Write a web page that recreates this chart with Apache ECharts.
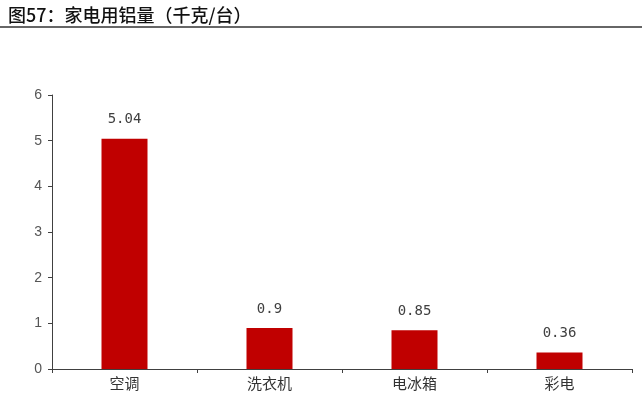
<!DOCTYPE html>
<html>
<head>
<meta charset="utf-8">
<script src="https://cdn.jsdelivr.net/npm/echarts@6/dist/echarts.min.js"></script>
<style>
html,body{margin:0;padding:0;background:#fff;}
#chart{width:642px;height:401px;}
</style>
</head>
<body>
<div id="chart"></div>
<script>
var categories = ['空调', '洗衣机', '电冰箱', '彩电'];
var values = [5.04, 0.9, 0.85, 0.36];
var labelText = ['5.04', '0.9', '0.85', '0.36'];

var chart = echarts.init(document.getElementById('chart'));
chart.setOption({
    animation: false,
    title: {
        text: '图57：家电用铝量（千克/台）',
        left: 3,
        top: 1,
        textStyle: {
            fontFamily: 'Noto Sans CJK SC',
            fontSize: 18,
            fontWeight: 500,
            color: '#111'
        }
    },
    graphic: [{
        type: 'line',
        shape: {x1: 0, y1: 27, x2: 642, y2: 27},
        style: {stroke: '#333', lineWidth: 1.5}
    }],
    grid: {
        left: 52,
        right: 10,
        top: 95,
        bottom: 32
    },
    xAxis: {
        type: 'category',
        data: categories,
        axisLine: {lineStyle: {color: '#404040', width: 1}},
        axisTick: {show: true, alignWithLabel: false, length: 4, lineStyle: {color: '#404040'}},
        axisLabel: {
            color: '#333',
            fontSize: 15,
            fontFamily: 'Noto Sans CJK SC',
            margin: 7
        }
    },
    yAxis: {
        type: 'value',
        min: 0,
        max: 6,
        interval: 1,
        axisLine: {show: true, lineStyle: {color: '#404040', width: 1}},
        axisTick: {show: true, length: 4, lineStyle: {color: '#404040'}},
        splitLine: {show: false},
        axisLabel: {
            color: '#555',
            fontSize: 14,
            fontFamily: 'Liberation Sans',
            margin: 10
        }
    },
    series: [{
        type: 'bar',
        data: values,
        barWidth: 46,
        itemStyle: {color: '#C00000'},
        label: {
            show: true,
            position: 'top',
            distance: 12,
            color: '#404040',
            fontSize: 14,
            fontFamily: 'DejaVu Sans Mono',
            formatter: function (p) {
                return labelText[p.dataIndex];
            }
        }
    }]
});
</script>
</body>
</html>
